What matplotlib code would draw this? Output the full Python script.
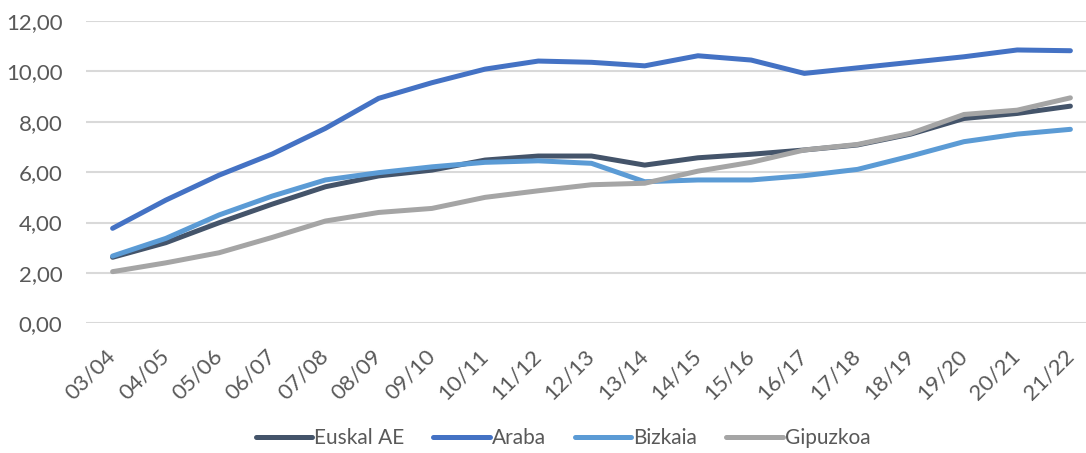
import matplotlib
matplotlib.use("Agg")
import matplotlib.pyplot as plt

categories = ["03/04", "04/05", "05/06", "06/07", "07/08", "08/09", "09/10", "10/11",
              "11/12", "12/13", "13/14", "14/15", "15/16", "16/17", "17/18", "18/19",
              "19/20", "20/21", "21/22"]

euskal_ae = [2.62, 3.20, 3.99, 4.73, 5.42, 5.85, 6.08, 6.48, 6.64, 6.64,
             6.28, 6.57, 6.71, 6.88, 7.08, 7.51, 8.13, 8.33, 8.62]
araba = [3.77, 4.89, 5.88, 6.72, 7.74, 8.93, 9.55, 10.09, 10.41, 10.36,
         10.22, 10.62, 10.45, 9.92, 10.14, 10.36, 10.58, 10.85, 10.82]
bizkaia = [2.67, 3.37, 4.30, 5.05, 5.69, 5.98, 6.21, 6.39, 6.45, 6.35,
           5.62, 5.69, 5.69, 5.86, 6.11, 6.64, 7.21, 7.51, 7.70]
gipuzkoa = [2.05, 2.40, 2.80, 3.41, 4.06, 4.40, 4.56, 5.00, 5.26, 5.50,
            5.56, 6.04, 6.39, 6.88, 7.10, 7.54, 8.29, 8.46, 8.95]

series_names = ["Euskal AE", "Araba", "Bizkaia", "Gipuzkoa"]
series_values = [euskal_ae, araba, bizkaia, gipuzkoa]
colors = ["#44546A", "#4472C4", "#5B9BD5", "#A5A5A5"]
y_ticks = [0, 2, 4, 6, 8, 10, 12]

plt.rcParams['font.family'] = ['Lato', 'DejaVu Sans']

W, H = 1086, 453
fig = plt.figure(figsize=(W / 100, H / 100), dpi=100)
ax = fig.add_axes([86 / W, 1 - 323.3 / H, 1011 / W, (323.3 - 21) / H])

x = list(range(len(categories)))
for name, vals, c in zip(series_names, series_values, colors):
    ax.plot(x, vals, color=c, lw=3.6, label=name, solid_capstyle='round',
            solid_joinstyle='round')

ax.set_xlim(-0.5, len(categories) - 0.5)
ax.set_ylim(0, 12)
ax.set_yticks(y_ticks)
ax.set_yticklabels([f"{v:.2f}".replace(".", ",") for v in y_ticks])
ax.set_xticks(x)
ax.set_xticklabels(categories, rotation=45, ha='right', va='center',
                   rotation_mode='anchor')
for s in ax.spines.values():
    s.set_visible(False)
ax.grid(axis='y', color='#D9D9D9', lw=1.5)
ax.set_axisbelow(True)
ax.tick_params(axis='both', length=0, labelsize=16, colors='#595959')
ax.tick_params(axis='y', pad=17)
ax.tick_params(axis='x', pad=21)

fig.legend(loc='center', bbox_to_anchor=(563 / W, 1 - 438 / H), ncol=4,
           frameon=False, fontsize=15, handlelength=2.7, handletextpad=0.1,
           columnspacing=1.4, labelcolor='#595959')

fig.savefig("out.png", dpi=100)
